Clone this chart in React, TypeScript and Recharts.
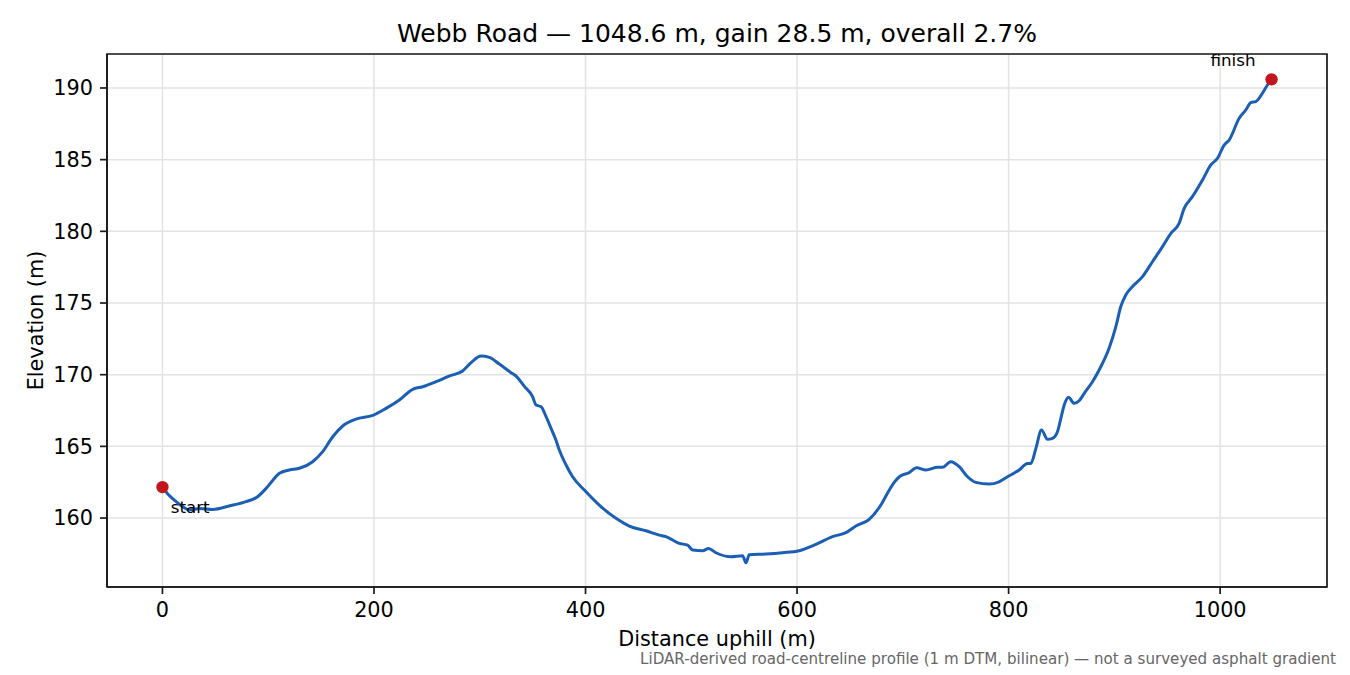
import { CartesianGrid, Line, LineChart, ReferenceArea, ReferenceDot, XAxis, YAxis } from "recharts";

// profile (distance in m, elevation in m)
const distance = [
  0, 6, 13, 19, 25.5, 35, 47.6, 63, 79, 90, 98, 104, 110.6, 120, 129.5, 142, 151.5, 161,
  170.4, 183, 198.8, 211.4, 224, 236.6, 246, 258.7, 271, 283.8, 291.8, 301.2, 309, 318.5,
  329.6, 334.3, 342, 350, 353.2, 358, 362.7, 367.4, 372, 375.2, 381.6, 387.8, 398.9, 413,
  428.8, 441.4, 457.2, 469.8, 476, 488.7, 496.5, 501.3, 510.7, 516.4, 523.3, 537.5, 548.5,
  551.7, 554.8, 570.6, 586.3, 602, 617.8, 633.5, 646.2, 655.6, 668.2, 680, 686, 692, 697,
  706, 713, 721.8, 733, 737.5, 745.4, 753.3, 761.2, 769, 781.7, 791, 799, 810, 818, 821,
  825.8, 831.1, 836.8, 841.5, 846.2, 849.4, 852.6, 856.6, 862, 866.7, 871.5, 879.3, 885.6,
  895, 901.4, 906, 910.8, 917, 926.6, 936, 945.5, 953.4, 961.2, 966, 973.8, 983.3, 991.2,
  997.5, 1003.8, 1008.5, 1018, 1024.3, 1029, 1033.7, 1040, 1044.7, 1048.6,
];
const elevation = [
  162.16, 161.6, 161.14, 160.8, 160.56, 160.67, 160.6, 160.84, 161.14, 161.49, 162.07, 162.6,
  163.12, 163.35, 163.47, 163.93, 164.63, 165.67, 166.42, 166.9, 167.16, 167.65, 168.23,
  168.98, 169.16, 169.51, 169.9, 170.26, 170.84, 171.3, 171.21, 170.74, 170.14, 169.9, 169.2,
  168.46, 167.88, 167.77, 167.07, 166.26, 165.44, 164.74, 163.7, 162.88, 161.95, 160.9,
  159.98, 159.44, 159.11, 158.81, 158.7, 158.23, 158.11, 157.77, 157.72, 157.88, 157.58,
  157.3, 157.37, 156.88, 157.44, 157.49, 157.58, 157.72, 158.16, 158.7, 158.98, 159.44,
  159.91, 161.0, 161.8, 162.5, 162.9, 163.17, 163.51, 163.35, 163.54, 163.54, 163.93, 163.58,
  162.88, 162.49, 162.37, 162.53, 162.88, 163.35, 163.81, 163.81, 164.86, 166.14, 165.49,
  165.56, 166.02, 166.96, 167.88, 168.42, 168.0, 168.18, 168.7, 169.51, 170.33, 171.84,
  173.35, 174.74, 175.56, 176.14, 176.84, 177.88, 178.93, 179.86, 180.56, 181.6, 182.42,
  183.58, 184.63, 185.1, 186.02, 186.37, 187.89, 188.47, 188.98, 189.05, 189.63, 190.21,
  190.6,
];
const xTicks = [0, 200, 400, 600, 800, 1000];
const yTicks = [160, 165, 170, 175, 180, 185, 190];
const xDomain: [number, number] = [-52.43, 1101.03];
const yDomain: [number, number] = [155.19, 192.37];

const profile = distance.map((d, i) => ({ d, elev: elevation[i] }));
const last = distance.length - 1;

const font = "DejaVu Sans";
const ink = "#1a1a1a";
const axisStyle = { stroke: ink, strokeWidth: 1.7 };
const tickStyle = { fill: "#000", fontSize: 20.8, fontFamily: font };

function EndDot(props: any, label: string, right: boolean) {
  return (
    <g>
      <circle cx={props.cx} cy={props.cy} r={6.2} fill="#c1161f" />
      <text
        x={props.cx + (right ? -16 : 8.3)}
        y={props.cy + (right ? -13.3 : 25.5)}
        textAnchor={right ? "end" : "start"}
        fontSize={16.7}
        fontFamily={font}
        fill="#000"
      >
        {label}
      </text>
    </g>
  );
}

export default function App() {
  return (
    <div style={{ position: "relative", width: 1350, height: 675, background: "#fff" }}>
      <style>{"body{margin:0}"}</style>
      <LineChart
        width={1350}
        height={675}
        data={profile}
        margin={{ top: 54, right: 23, bottom: 0, left: 0 }}
      >
        <CartesianGrid stroke="#e3e3e3" strokeWidth={1.5} />
        <XAxis
          dataKey="d"
          type="number"
          domain={xDomain}
          ticks={xTicks}
          allowDataOverflow
          height={88}
          tickSize={7}
          tickMargin={8}
          axisLine={axisStyle}
          tickLine={axisStyle}
          tick={tickStyle}
        />
        <YAxis
          type="number"
          domain={yDomain}
          ticks={yTicks}
          allowDataOverflow
          width={107}
          tickSize={7}
          tickMargin={7}
          axisLine={axisStyle}
          tickLine={axisStyle}
          tick={tickStyle}
        />
        {/* full box frame like matplotlib spines */}
        <ReferenceArea
          x1={xDomain[0]}
          x2={xDomain[1]}
          y1={yDomain[0]}
          y2={yDomain[1]}
          fill="none"
          fillOpacity={0}
          stroke={ink}
          strokeWidth={1.7}
          strokeOpacity={1}
        />
        <Line
          dataKey="elev"
          type="monotoneX"
          stroke="#1b5fb4"
          strokeWidth={3}
          dot={false}
          isAnimationActive={false}
        />
        <ReferenceDot
          x={distance[0]}
          y={elevation[0]}
          r={6.2}
          shape={(p: any) => EndDot(p, "start", false)}
        />
        <ReferenceDot
          x={distance[last]}
          y={elevation[last]}
          r={6.2}
          shape={(p: any) => EndDot(p, "finish", true)}
        />
      </LineChart>
      <svg
        width={1350}
        height={675}
        style={{ position: "absolute", left: 0, top: 0, pointerEvents: "none" }}
        fontFamily={font}
      >
        <text x={717} y={41.5} textAnchor="middle" fontSize={25} fill="#000">
          Webb Road — 1048.6 m, gain 28.5 m, overall 2.7%
        </text>
        <text x={717} y={646} textAnchor="middle" fontSize={20.8} fill="#000">
          Distance uphill (m)
        </text>
        <text
          x={43}
          y={320.5}
          transform="rotate(-90, 43, 320.5)"
          textAnchor="middle"
          fontSize={20.8}
          fill="#000"
        >
          Elevation (m)
        </text>
        <text x={1336} y={664} textAnchor="end" fontSize={15.1} fill="#666">
          LiDAR-derived road-centreline profile (1 m DTM, bilinear) — not a surveyed asphalt gradient
        </text>
      </svg>
    </div>
  );
}
